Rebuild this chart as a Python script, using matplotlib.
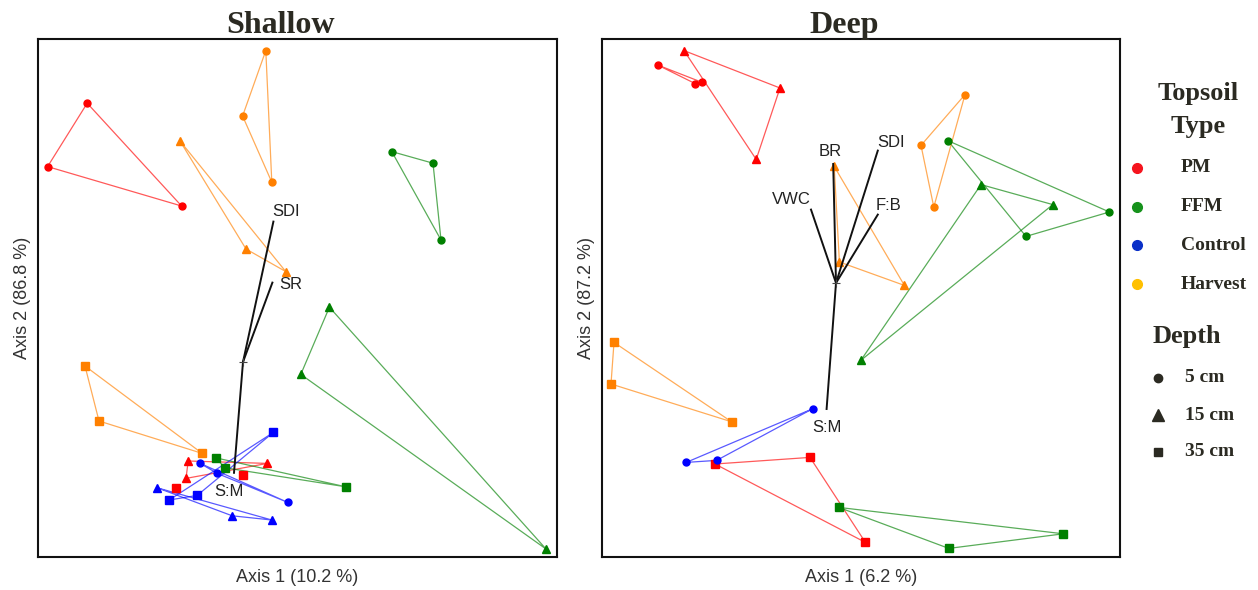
import matplotlib.pyplot as plt
from matplotlib.lines import Line2D

# ordination scores per topsoil type / depth (axis 1, axis 2)
shallow_pm_5 = [(-0.779, 1.294), (-0.977, 0.977), (-0.307, 0.780)]
shallow_pm_15 = [(-0.274, -0.495), (0.122, -0.507), (-0.285, -0.582)]
shallow_pm_35 = [(-0.337, -0.632), (0.002, -0.567)]
shallow_ffm_5 = [(0.744, 1.052), (0.950, 0.994), (0.990, 0.610)]
shallow_ffm_15 = [(0.432, 0.274), (0.289, -0.062), (1.515, -0.935)]
shallow_ffm_35 = [(-0.137, -0.479), (-0.090, -0.529), (0.514, -0.624)]
shallow_ctl_5 = [(-0.214, -0.507), (-0.129, -0.557), (0.224, -0.702)]
shallow_ctl_15 = [(-0.429, -0.629), (-0.054, -0.769), (0.144, -0.790)]
shallow_ctl_35 = [(0.152, -0.352), (-0.369, -0.690), (-0.229, -0.667)]
shallow_hv_5 = [(0.114, 1.557), (-0.002, 1.230), (0.144, 0.899)]
shallow_hv_15 = [(-0.315, 1.105), (0.015, 0.565), (0.214, 0.452)]
shallow_hv_35 = [(-0.790, -0.020), (-0.720, -0.295), (-0.204, -0.457)]

deep_pm_5 = [(-0.892, 1.090), (-0.704, 0.997), (-0.669, 1.003)]
deep_pm_15 = [(-0.760, 1.162), (-0.280, 0.975), (-0.399, 0.618)]
deep_pm_35 = [(-0.605, -0.905), (-0.130, -0.872), (0.147, -1.297)]
deep_ffm_5 = [(0.559, 0.712), (0.950, 0.233), (1.367, 0.355)]
deep_ffm_15 = [(0.725, 0.492), (1.084, 0.392), (0.124, -0.387)]
deep_ffm_35 = [(0.014, -1.122), (1.137, -1.254), (0.564, -1.327)]
deep_ctl_5 = [(-0.117, -0.629), (-0.749, -0.897), (-0.597, -0.887)]
deep_hv_5 = [(0.645, 0.942), (0.425, 0.688), (0.489, 0.380)]
deep_hv_15 = [(-0.009, 0.583), (0.017, 0.105), (0.342, -0.012)]
deep_hv_35 = [(-1.110, -0.297), (-1.125, -0.505), (-0.522, -0.694)]

# fitted environmental vectors
shallow_vec_names = ['SDI', 'SR', 'S:M']
shallow_vec_xy = [(0.152, 0.702), (0.147, 0.397), (-0.045, -0.554)]
deep_vec_names = ['BR', 'SDI', 'F:B', 'VWC', 'S:M']
deep_vec_xy = [(-0.014, 0.595), (0.209, 0.662), (0.209, 0.342), (-0.125, 0.367), (-0.047, -0.630)]

topsoil_types = ['PM', 'FFM', 'Control', 'Harvest']
depths = ['5 cm', '15 cm', '35 cm']

col = {'PM': '#FF0000', 'FFM': '#008000', 'Control': '#0000FF', 'Harvest': '#FF8000'}
leg_col = {'PM': '#F5141E', 'FFM': '#16921C', 'Control': '#0A30C8', 'Harvest': '#FFC000'}
mk = {'5 cm': 'o', '15 cm': '^', '35 cm': 's'}
ink = '#2B2A22'

shallow = {('PM', '5 cm'): shallow_pm_5, ('PM', '15 cm'): shallow_pm_15, ('PM', '35 cm'): shallow_pm_35,
           ('FFM', '5 cm'): shallow_ffm_5, ('FFM', '15 cm'): shallow_ffm_15, ('FFM', '35 cm'): shallow_ffm_35,
           ('Control', '5 cm'): shallow_ctl_5, ('Control', '15 cm'): shallow_ctl_15, ('Control', '35 cm'): shallow_ctl_35,
           ('Harvest', '5 cm'): shallow_hv_5, ('Harvest', '15 cm'): shallow_hv_15, ('Harvest', '35 cm'): shallow_hv_35}
deep = {('PM', '5 cm'): deep_pm_5, ('PM', '15 cm'): deep_pm_15, ('PM', '35 cm'): deep_pm_35,
        ('FFM', '5 cm'): deep_ffm_5, ('FFM', '15 cm'): deep_ffm_15, ('FFM', '35 cm'): deep_ffm_35,
        ('Control', '5 cm'): deep_ctl_5,
        ('Harvest', '5 cm'): deep_hv_5, ('Harvest', '15 cm'): deep_hv_15, ('Harvest', '35 cm'): deep_hv_35}

# label offsets in pixels from the arrow tip
shallow_lab_off = [(13, 10), (18, -2), (-5, -19)]
deep_lab_off = [(-3, 13), (13, 8), (11, 9), (-20, 10), (0, -18)]


def draw_panel(ax, groups, names, vecs, offs, title, xlab, ylab, xlim, ylim):
    for (soil, depth), pts in groups.items():
        xs = [p[0] for p in pts]
        ys = [p[1] for p in pts]
        if len(pts) > 2:
            ax.plot(xs + [xs[0]], ys + [ys[0]], '-', color=col[soil], lw=0.9, alpha=0.65, zorder=2)
        ms = 5 if depth == '5 cm' else 5.5
        ax.plot(xs, ys, mk[depth], color=col[soil], ms=ms, mec=col[soil], zorder=3)
    for name, (vx, vy), (ox, oy) in zip(names, vecs, offs):
        ax.plot([0, vx], [0, vy], '-', color='#111111', lw=1.4, zorder=4)
        ax.annotate(name, xy=(vx, vy), xytext=(ox, oy), textcoords='offset pixels',
                    ha='center', va='center', fontsize=12, color='#222222',
                    family='Liberation Sans', zorder=5)
    ax.plot([0], [0], '+', color='#444444', ms=6, mew=0.8, zorder=4)
    ax.set_xlim(*xlim)
    ax.set_ylim(*ylim)
    ax.set_xticks([])
    ax.set_yticks([])
    for s in ax.spines.values():
        s.set_linewidth(1.5)
        s.set_color('#111111')
    # title sits centred over the panel plus its y label
    ax.text(0.467, 1.0 + 6 / 518, title, transform=ax.transAxes, ha='center', va='baseline',
            fontsize=23, fontweight='bold', family='Liberation Serif', color=ink)
    ax.set_xlabel(xlab, fontsize=13, family='Liberation Sans', color='#333333', labelpad=9)
    ax.set_ylabel(ylab, fontsize=13, family='Liberation Sans', color='#333333', labelpad=5)


fig = plt.figure(figsize=(12.58, 5.9), dpi=100)
ax1 = fig.add_axes([38 / 1258, 33 / 590, 519 / 1258, 518 / 590])
ax2 = fig.add_axes([602 / 1258, 33 / 590, 518 / 1258, 518 / 590])

draw_panel(ax1, shallow, shallow_vec_names, shallow_vec_xy, shallow_lab_off,
           'Shallow', 'Axis 1 (10.2 %)', 'Axis 2 (86.8 %)', (-1.025, 1.57), (-0.975, 1.615))
draw_panel(ax2, deep, deep_vec_names, deep_vec_xy, deep_lab_off,
           'Deep', 'Axis 1 (6.2 %)', 'Axis 2 (87.2 %)', (-1.17, 1.42), (-1.37, 1.22))

# legend drawn by hand at the right
serif = 'Liberation Serif'
fig.text(1198 / 1258, 1 - 93 / 590, 'Topsoil', ha='center', va='center', fontsize=19,
         fontweight='bold', family=serif, color=ink)
fig.text(1198 / 1258, 1 - 127 / 590, 'Type', ha='center', va='center', fontsize=19,
         fontweight='bold', family=serif, color=ink)
for i, t in enumerate(topsoil_types):
    y = 1 - (168 + i * 38.7) / 590
    fig.add_artist(Line2D([1136.5 / 1258], [y], marker='o', ms=7, color=leg_col[t], mec=leg_col[t]))
    fig.text(1181 / 1258, y, t, ha='left', va='center', fontsize=14, fontweight='bold',
             family=serif, color=ink)

fig.text(1187 / 1258, 1 - 336 / 590, 'Depth', ha='center', va='center', fontsize=19,
         fontweight='bold', family=serif, color=ink)
for i, d in enumerate(depths):
    y = 1 - (378 + i * 37) / 590
    fig.add_artist(Line2D([1158 / 1258], [y], marker=mk[d], ms=6 if d != '15 cm' else 9,
                          color=ink, mec=ink))
    fig.text(1185 / 1258, y, d, ha='left', va='center', fontsize=14, fontweight='bold',
             family=serif, color=ink)

fig.savefig('out.png', dpi=100)
